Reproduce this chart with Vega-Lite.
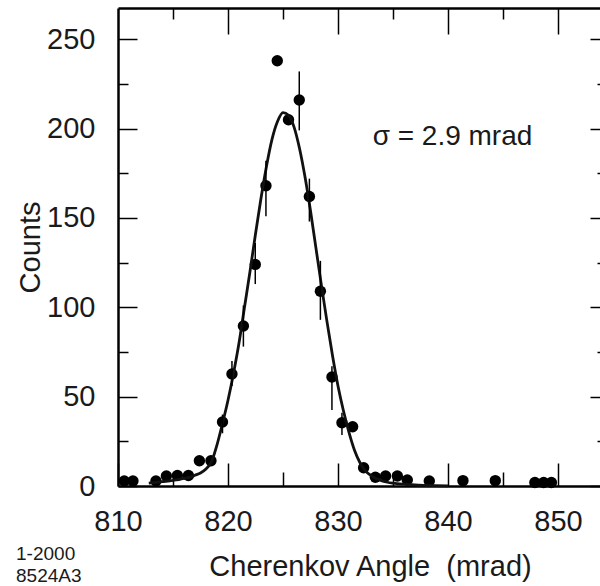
{
  "$schema": "https://vega.github.io/schema/vega-lite/v6.json",
  "width": 482,
  "height": 478,
  "autosize": {"type": "none"},
  "padding": {"left": 118, "top": 8, "right": 0, "bottom": 100},
  "background": "white",
  "config": {
    "view": {"stroke": null},
    "axis": {
      "labelFont": "Liberation Sans, Arial, Helvetica, sans-serif",
      "titleFont": "Liberation Sans, Arial, Helvetica, sans-serif",
      "labelFontSize": 29,
      "titleFontSize": 29,
      "labelColor": "#1a1a1a",
      "titleColor": "#1a1a1a",
      "titleFontWeight": "normal",
      "domainColor": "#000",
      "tickColor": "#000",
      "grid": false,
      "labelFlush": false,
      "labelOverlap": false
    }
  },
  "resolve": {
    "scale": {"x": "shared", "y": "shared"},
    "axis": {"x": "independent", "y": "independent"}
  },
  "layer": [
    {
      "data": {"values": [
        {"angle": 810.57, "count": 2.8},
        {"angle": 811.36, "count": 2.8},
        {"angle": 813.45, "count": 2.8},
        {"angle": 814.4, "count": 5.6},
        {"angle": 815.4, "count": 5.9},
        {"angle": 816.4, "count": 5.9},
        {"angle": 817.4, "count": 14.1},
        {"angle": 818.45, "count": 14.1},
        {"angle": 819.5, "count": 35.8},
        {"angle": 820.36, "count": 62.7},
        {"angle": 821.4, "count": 89.5},
        {"angle": 822.48, "count": 124},
        {"angle": 823.45, "count": 168},
        {"angle": 824.48, "count": 238},
        {"angle": 825.5, "count": 205},
        {"angle": 826.48, "count": 216},
        {"angle": 827.4, "count": 162},
        {"angle": 828.4, "count": 109},
        {"angle": 829.45, "count": 61},
        {"angle": 830.36, "count": 35.4},
        {"angle": 831.33, "count": 33.2},
        {"angle": 832.33, "count": 10.2},
        {"angle": 833.4, "count": 4.9},
        {"angle": 834.33, "count": 5.6},
        {"angle": 835.4, "count": 5.6},
        {"angle": 836.3, "count": 3.4},
        {"angle": 838.3, "count": 2.8},
        {"angle": 841.36, "count": 3.0},
        {"angle": 844.3, "count": 3.0},
        {"angle": 847.9, "count": 2.0},
        {"angle": 848.7, "count": 2.0},
        {"angle": 849.4, "count": 2.0}
      ]},
      "mark": {"type": "circle", "size": 130, "opacity": 1, "color": "#000"},
      "encoding": {
        "x": {
          "field": "angle", "type": "quantitative",
          "scale": {"domain": [810, 853.82], "nice": false, "zero": false},
          "axis": {
            "orient": "bottom", "values": [810, 820, 830, 840, 850],
            "tickSize": -23, "tickWidth": 1.5, "domainWidth": 2.5,
            "labelPadding": 44,
            "title": "Cherenkov Angle\u00a0 (mrad)",
            "titleX": 252, "titleY": 89, "titleAlign": "center", "titleBaseline": "alphabetic"
          }
        },
        "y": {
          "field": "count", "type": "quantitative",
          "scale": {"domain": [0, 267.5], "nice": false, "zero": false},
          "axis": {
            "orient": "left", "values": [0, 50, 100, 150, 200, 250],
            "tickSize": -19, "tickWidth": 1.5, "domainWidth": 2.5,
            "labelPadding": 42,
            "title": "Counts",
            "titleX": -88, "titleY": 239, "titleAngle": -90, "titleAlign": "center", "titleBaseline": "middle"
          }
        }
      }
    },
    {
      "data": {"values": [
        {"angle": 812.8, "fit": 1.6},
        {"angle": 813.5, "fit": 2.0},
        {"angle": 814, "fit": 2.4},
        {"angle": 815, "fit": 3.2},
        {"angle": 816, "fit": 4.2},
        {"angle": 816.5, "fit": 4.8},
        {"angle": 817, "fit": 6.0},
        {"angle": 817.5, "fit": 7.3},
        {"angle": 818, "fit": 9.5},
        {"angle": 818.5, "fit": 13.5},
        {"angle": 819, "fit": 23},
        {"angle": 819.5, "fit": 35},
        {"angle": 820, "fit": 48},
        {"angle": 820.5, "fit": 63},
        {"angle": 821, "fit": 80},
        {"angle": 821.5, "fit": 100},
        {"angle": 822, "fit": 120},
        {"angle": 822.5, "fit": 141},
        {"angle": 823, "fit": 161},
        {"angle": 823.5, "fit": 179},
        {"angle": 824, "fit": 194},
        {"angle": 824.5, "fit": 204},
        {"angle": 825, "fit": 209},
        {"angle": 825.5, "fit": 207.5},
        {"angle": 826, "fit": 201},
        {"angle": 826.5, "fit": 189},
        {"angle": 827, "fit": 173},
        {"angle": 827.5, "fit": 154},
        {"angle": 828, "fit": 133},
        {"angle": 828.5, "fit": 112},
        {"angle": 829, "fit": 92},
        {"angle": 829.5, "fit": 73},
        {"angle": 830, "fit": 56},
        {"angle": 830.5, "fit": 42},
        {"angle": 831, "fit": 30},
        {"angle": 831.5, "fit": 20},
        {"angle": 832, "fit": 13},
        {"angle": 832.5, "fit": 8.5},
        {"angle": 833, "fit": 5.8},
        {"angle": 833.5, "fit": 4.0},
        {"angle": 834, "fit": 2.9},
        {"angle": 834.5, "fit": 2.1},
        {"angle": 835, "fit": 1.6},
        {"angle": 836, "fit": 1.0},
        {"angle": 837, "fit": 0.6},
        {"angle": 838, "fit": 0.3},
        {"angle": 840, "fit": 0.1}
      ]},
      "mark": {"type": "line", "color": "#111", "strokeWidth": 2.8, "interpolate": "monotone"},
      "encoding": {
        "x": {
          "field": "angle", "type": "quantitative",
          "scale": {"domain": [810, 853.82], "nice": false, "zero": false},
          "axis": {"orient": "bottom", "values": [815, 825, 835, 845], "tickSize": -14, "tickWidth": 1.5, "labels": false, "domain": false, "title": null}
        },
        "y": {
          "field": "fit", "type": "quantitative",
          "scale": {"domain": [0, 267.5], "nice": false, "zero": false},
          "axis": {"orient": "left", "values": [25, 75, 125, 175, 225], "tickSize": -10, "tickWidth": 1.5, "labels": false, "domain": false, "title": null}
        }
      }
    },
    {
      "data": {"values": [
        {"angle": 819.5, "lo": 29.5, "hi": 40},
        {"angle": 820.36, "lo": 56, "hi": 70},
        {"angle": 821.4, "lo": 78, "hi": 101},
        {"angle": 822.48, "lo": 113, "hi": 136},
        {"angle": 823.45, "lo": 151, "hi": 182},
        {"angle": 826.48, "lo": 199, "hi": 232},
        {"angle": 827.4, "lo": 148, "hi": 172},
        {"angle": 828.4, "lo": 93, "hi": 126},
        {"angle": 829.45, "lo": 42.5, "hi": 67},
        {"angle": 830.36, "lo": 28.5, "hi": 41}
      ]},
      "mark": {"type": "rule", "color": "#000", "strokeWidth": 1.5},
      "encoding": {
        "x": {
          "field": "angle", "type": "quantitative",
          "scale": {"domain": [810, 853.82], "nice": false, "zero": false},
          "axis": {"orient": "top", "values": [820, 830, 840, 850], "tickSize": -26, "tickWidth": 1.5, "labels": false, "domainWidth": 2.5, "title": null}
        },
        "y": {
          "field": "lo", "type": "quantitative",
          "scale": {"domain": [0, 267.5], "nice": false, "zero": false},
          "axis": {"orient": "right", "values": [0, 50, 100, 150, 200, 250], "tickSize": -10, "tickWidth": 1.5, "labels": false, "domain": false, "title": null}
        },
        "y2": {"field": "hi"}
      }
    },
    {
      "data": {"values": [
        {"angle": 833.15, "count": 190.8, "label": "σ = 2.9 mrad"}
      ]},
      "mark": {"type": "text", "align": "left", "baseline": "alphabetic", "font": "Liberation Sans, Arial, Helvetica, sans-serif", "fontSize": 28, "color": "#1a1a1a"},
      "encoding": {
        "x": {
          "field": "angle", "type": "quantitative",
          "scale": {"domain": [810, 853.82], "nice": false, "zero": false},
          "axis": {"orient": "top", "values": [815, 825, 835, 845], "tickSize": -11, "tickWidth": 1.5, "labels": false, "domain": false, "title": null}
        },
        "y": {
          "field": "count", "type": "quantitative",
          "scale": {"domain": [0, 267.5], "nice": false, "zero": false},
          "axis": {"orient": "right", "values": [25, 75, 125, 175, 225], "tickSize": -3, "tickWidth": 1.5, "labels": false, "domain": false, "title": null}
        },
        "text": {"field": "label"}
      }
    },
    {
      "data": {"values": [
        {"angle": 800.73, "count": -41.4, "label": "1-2000"},
        {"angle": 800.73, "count": -53.7, "label": "8524A3"}
      ]},
      "mark": {"type": "text", "align": "left", "baseline": "alphabetic", "font": "Liberation Sans, Arial, Helvetica, sans-serif", "fontSize": 19, "color": "#1a1a1a"},
      "encoding": {
        "x": {
          "field": "angle", "type": "quantitative",
          "scale": {"domain": [810, 853.82], "nice": false, "zero": false},
          "axis": null
        },
        "y": {
          "field": "count", "type": "quantitative",
          "scale": {"domain": [0, 267.5], "nice": false, "zero": false},
          "axis": null
        },
        "text": {"field": "label"}
      }
    }
  ]
}
